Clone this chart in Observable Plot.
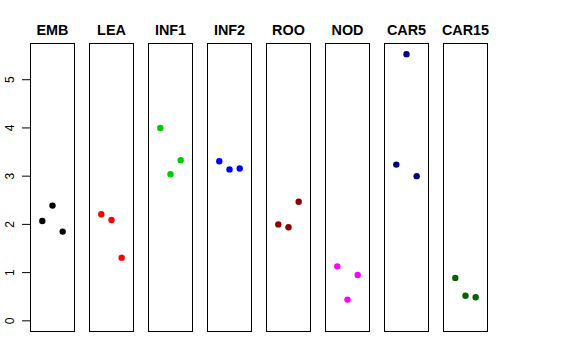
<!DOCTYPE html>
<html>
<head>
<meta charset="utf-8">
<script src="https://cdn.jsdelivr.net/npm/d3@7"></script>
<script src="https://cdn.jsdelivr.net/npm/@observablehq/plot@0.6"></script>
<style>
  html, body { margin: 0; padding: 0; background: white; }
</style>
</head>
<body>
<div id="chart"></div>
<script>
const panels = ["EMB", "LEA", "INF1", "INF2", "ROO", "NOD", "CAR5", "CAR15"];
const colors = ["black", "red", "#00CD00", "blue", "#8B0000", "magenta", "#000080", "#006400"];
const rep1 = [2.07, 2.21, 4.00, 3.31, 2.00, 1.13, 3.24, 0.89];
const rep2 = [2.39, 2.09, 3.04, 3.14, 1.94, 0.44, 5.53, 0.52];
const rep3 = [1.85, 1.31, 3.33, 3.16, 2.47, 0.95, 3.00, 0.49];
const yTicks = [0, 1, 2, 3, 4, 5];

const data = [];
panels.forEach((p, i) => {
  [rep1, rep2, rep3].forEach((rep, j) => {
    data.push({panel: p, rep: j + 1, value: rep[i], color: colors[i]});
  });
});

const chart = Plot.plot({
  width: 576,
  height: 360,
  marginLeft: 29,
  marginRight: 88.3,
  marginTop: 43,
  marginBottom: 29,
  style: {fontFamily: "'Liberation Sans', Arial, sans-serif", background: "white", color: "black"},
  fx: {domain: panels, paddingInner: 0.25, paddingOuter: 0, label: null},
  x: {domain: [-0.16, 4.16], axis: null},
  y: {domain: [-0.2212, 5.7512], axis: null},
  color: {type: "identity"},
  marks: [
    Plot.frame({stroke: "black", strokeWidth: 1}),
    Plot.dot(data, {fx: "panel", x: "rep", y: "value", r: 3.2, fill: "color", stroke: null}),
    Plot.axisY({ticks: yTicks, tickFormat: "d", tickSize: 8, tickRotate: -90, fontSize: 12, anchor: "left", label: null, tickPadding: 8.5}),
    Plot.axisFx({anchor: "top", tickSize: 0, tickPadding: 9, fontSize: 14.4, fontWeight: "bold", label: null})
  ]
});
document.getElementById("chart").appendChild(chart);
</script>
</body>
</html>
